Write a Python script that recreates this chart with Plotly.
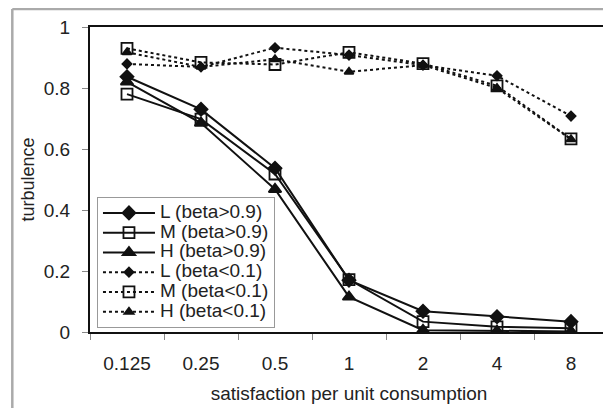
import plotly.graph_objects as go

categories = ["0.125", "0.25", "0.5", "1", "2", "4", "8"]

L_hi = [0.837, 0.730, 0.537, 0.170, 0.068, 0.050, 0.034]
M_hi = [0.780, 0.698, 0.518, 0.172, 0.034, 0.017, 0.012]
H_hi = [0.820, 0.685, 0.468, 0.115, 0.006, 0.003, 0.002]
L_lo = [0.879, 0.869, 0.932, 0.908, 0.875, 0.840, 0.708]
M_lo = [0.930, 0.884, 0.877, 0.917, 0.880, 0.807, 0.633]
H_lo = [0.917, 0.869, 0.894, 0.853, 0.875, 0.800, 0.632]

names = ["L (beta>0.9)", "M (beta>0.9)", "H (beta>0.9)",
         "L (beta<0.1)", "M (beta<0.1)", "H (beta<0.1)"]
series = [L_hi, M_hi, H_hi, L_lo, M_lo, H_lo]
dashes = ["solid", "solid", "solid", "dot", "dot", "dot"]
symbols = ["diamond", "square-open", "triangle-up", "diamond", "square-open", "triangle-up"]
sizes = [10, 11, 11, 7, 11, 8]

fig = go.Figure()
for nm, ys, d, s, sz in zip(names, series, dashes, symbols, sizes):
    fig.add_trace(go.Scatter(
        x=categories, y=ys, mode="lines+markers",
        name='<span style="font-size:19px">' + nm.replace("<", "&lt;").replace(">", "&gt;") + "</span>",
        line=dict(color="#111111", width=2, dash=d),
        marker=dict(symbol=s, size=sz, color="#111111",
                    line=dict(color="#111111", width=1.8)),
    ))

# page body has an 8px default margin: plot area placed at screen x 90..610, y 27..332
L_M, T_M, PW, PH = 82, 19, 520, 305
font_family = "Liberation Sans, Arial, sans-serif"
fig.update_layout(
    width=611, height=408,
    margin=dict(l=L_M, r=611 - L_M - PW, t=T_M, b=408 - T_M - PH),
    paper_bgcolor="white", plot_bgcolor="white",
    font=dict(family=font_family, size=18, color="#222222"),
    showlegend=True,
    legend=dict(x=7 / PW, y=135 / PH, xanchor="left", yanchor="top",
                bgcolor="white", bordercolor="#999999", borderwidth=1,
                font=dict(size=12.9), itemwidth=52, tracegroupgap=0,
                traceorder="normal"),
    xaxis=dict(type="category", range=[-0.5, 6.5],
               tickson="boundaries", ticks="outside", ticklen=6,
               tickcolor="#888888", showgrid=False, zeroline=False,
               showline=True, linecolor="#111111", linewidth=2, mirror=True,
               tickfont=dict(size=19), ticklabelstandoff=13,
               title=dict(text="satisfaction per unit consumption",
                          font=dict(size=19), standoff=14)),
    yaxis=dict(range=[0, 1], tickvals=[0, 0.2, 0.4, 0.6, 0.8, 1],
               ticktext=["0", "0.2", "0.4", "0.6", "0.8", "1"],
               ticks="outside", ticklen=6, tickcolor="#888888",
               showgrid=False, zeroline=False,
               showline=True, linecolor="#111111", linewidth=2, mirror=True,
               tickfont=dict(size=19), ticklabelstandoff=8,
               title=dict(text="turbulence", font=dict(size=18), standoff=4)),
    shapes=[
        dict(type="line", xref="paper", yref="paper",
             x0=(4 - L_M) / PW, x1=(4 - L_M) / PW, y0=-0.4, y1=(PH + T_M - 1) / PH,
             line=dict(color="#aaaaaa", width=2.5), layer="above"),
        dict(type="line", xref="paper", yref="paper",
             x0=(4 - L_M) / PW, x1=1.1, y0=(PH + T_M - 1) / PH, y1=(PH + T_M - 1) / PH,
             line=dict(color="#aaaaaa", width=2.5), layer="above"),
    ],
)

fig.write_html("out.html", config={"displayModeBar": False})
